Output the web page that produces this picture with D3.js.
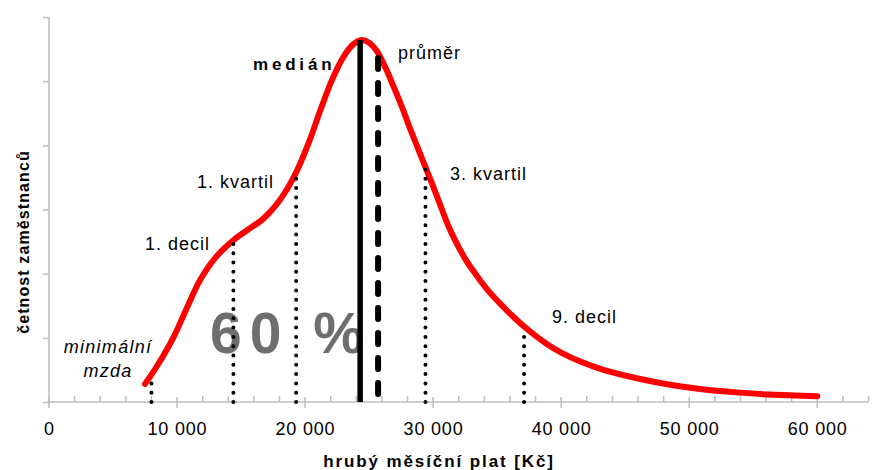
<!DOCTYPE html>
<html>
<head>
<meta charset="utf-8">
<script src="https://cdn.jsdelivr.net/npm/d3@7"></script>
<style>
  html, body { margin: 0; padding: 0; background: #fff; }
  svg { display: block; font-family: "Liberation Sans", Arial, sans-serif; }
</style>
</head>
<body>
<svg id="chart" width="872" height="470"></svg>
<script>
// ---- data ----
const curveX = [7500, 8500, 9700, 10800, 11800, 13000, 14400, 15500, 16700, 17700, 18600, 19400, 20300, 21200, 22100, 23000, 23800, 24400, 25000, 25600, 26300, 26900, 27600, 28200, 28800, 29400, 30000, 30500, 31200, 31900, 32600, 33400, 34200, 35200, 36200, 37200, 38900, 40000, 41500, 43300, 45900, 48500, 51000, 53700, 56300, 60000];
const curveY = [0.28, 0.58, 1.00, 1.48, 1.90, 2.25, 2.52, 2.68, 2.85, 3.06, 3.32, 3.62, 4.05, 4.55, 5.02, 5.38, 5.58, 5.64, 5.60, 5.47, 5.20, 4.92, 4.58, 4.26, 3.96, 3.66, 3.36, 3.10, 2.74, 2.45, 2.20, 1.97, 1.76, 1.54, 1.34, 1.16, 0.90, 0.77, 0.63, 0.50, 0.37, 0.27, 0.20, 0.15, 0.115, 0.09];

const markerNames = ["minimální mzda", "1. decil", "1. kvartil", "medián", "průměr", "3. kvartil", "9. decil"];
const markerValues = [8000, 14400, 19300, 24300, 25700, 29400, 37100];
const markerHeights = [0.30, 2.52, 3.54, 5.64, 5.36, 3.67, 1.12];

const xTicks = [0, 10000, 20000, 30000, 40000, 50000, 60000];
const xTickLabels = ["0", "10 000", "20 000", "30 000", "40 000", "50 000", "60 000"];
const xMinorTicks = d3.range(0, 64001, 2000);
const yTicks = [0, 1, 2, 3, 4, 5, 6];

const xTitle = "hrubý měsíční plat [Kč]";
const yTitle = "četnost zaměstnanců";
const shareLabel = "60 %";

// ---- layout ----
const svg = d3.select("#chart");
const x = d3.scaleLinear().domain([0, 64000]).range([49, 868.5]);
const y = d3.scaleLinear().domain([0, 6]).range([402, 17]);
const axisColor = "#bdbdbd";

// big share label (behind everything)
svg.append("text")
  .attr("x", 210).attr("y", 353)
  .attr("font-size", 57).attr("font-weight", "bold")
  .attr("letter-spacing", 8)
  .attr("fill", "#6e6e6e")
  .text(shareLabel);

// y axis
const yAxis = d3.axisLeft(y).tickValues(yTicks).tickSize(6).tickFormat("");
const gy = svg.append("g").attr("transform", `translate(${x(0)},0)`).call(yAxis);
gy.select(".domain").attr("stroke", axisColor).attr("stroke-width", 1.5).attr("d", `M0,${y(6)}V${y(0)}`);
gy.selectAll(".tick line").attr("stroke", axisColor).attr("stroke-width", 1.5);

// x axis
const gx = svg.append("g").attr("transform", `translate(0,${y(0)})`);
gx.append("line").attr("x1", x(0)).attr("x2", x(64000))
  .attr("stroke", axisColor).attr("stroke-width", 1.5);
gx.selectAll(".minor").data(xMinorTicks.filter(v => v % 10000 !== 0)).enter()
  .append("line").attr("class", "minor")
  .attr("x1", d => x(d)).attr("x2", d => x(d))
  .attr("y1", -6).attr("y2", 0)
  .attr("stroke", axisColor).attr("stroke-width", 1.5);
gx.selectAll(".major").data(xTicks).enter()
  .append("line").attr("class", "major")
  .attr("x1", d => x(d)).attr("x2", d => x(d))
  .attr("y1", -5).attr("y2", 6)
  .attr("stroke", axisColor).attr("stroke-width", 1.5);
gx.selectAll(".lbl").data(xTicks).enter()
  .append("text").attr("class", "lbl")
  .attr("x", d => x(d) + 0.4).attr("y", 33)
  .attr("text-anchor", "middle")
  .attr("font-size", 18).attr("letter-spacing", 0.8)
  .attr("fill", "#000")
  .text((d, i) => xTickLabels[i]);

// axis titles
svg.append("text")
  .attr("x", 439).attr("y", 467)
  .attr("text-anchor", "middle")
  .attr("font-size", 17).attr("font-weight", "bold")
  .attr("letter-spacing", 1.9)
  .text(xTitle);
svg.append("text")
  .attr("transform", "translate(29,242) rotate(-90)")
  .attr("text-anchor", "middle")
  .attr("font-size", 16).attr("font-weight", "bold")
  .attr("letter-spacing", 1.1)
  .text(yTitle);

// distribution curve
const pts = curveX.map((v, i) => [v, curveY[i]]);
const line = d3.line().x(d => x(d[0])).y(d => y(d[1])).curve(d3.curveCatmullRom.alpha(0.5));
svg.append("path")
  .attr("d", line(pts))
  .attr("fill", "none")
  .attr("stroke", "#ff0000")
  .attr("stroke-width", 6)
  .attr("stroke-linecap", "round")
  .attr("stroke-linejoin", "round");

// marker lines
markerValues.forEach((v, i) => {
  const name = markerNames[i];
  const l = svg.append("line")
    .attr("x1", x(v)).attr("x2", x(v))
    .attr("stroke", "#000");
  if (name === "medián") {
    l.attr("y1", y(0)).attr("y2", y(markerHeights[i])).attr("stroke-width", 5.5);
  } else if (name === "průměr") {
    l.attr("y1", y(markerHeights[i])).attr("y2", y(0))
      .attr("stroke-width", 6)
      .attr("stroke-linecap", "round")
      .attr("stroke-dasharray", "11 14");
  } else {
    l.attr("y1", y(0)).attr("y2", y(markerHeights[i]))
      .attr("stroke-width", 4)
      .attr("stroke-linecap", "round")
      .attr("stroke-dasharray", "0 9.3");
  }
});

// marker labels
const labelPos = {
  "1. decil": [145, 250],
  "1. kvartil": [197, 188],
  "3. kvartil": [450, 180],
  "9. decil": [552, 323],
  "průměr": [398, 59]
};
Object.keys(labelPos).forEach(k => {
  svg.append("text")
    .attr("x", labelPos[k][0]).attr("y", labelPos[k][1])
    .attr("font-size", 18).attr("letter-spacing", 1)
    .text(k);
});
svg.append("text")
  .attr("x", 253).attr("y", 69.5)
  .attr("font-size", 17).attr("font-weight", "bold")
  .attr("letter-spacing", 3.8)
  .text(markerNames[3]);
const mw = markerNames[0].split(" ");
svg.append("text")
  .attr("x", 108).attr("y", 353)
  .attr("text-anchor", "middle")
  .attr("font-size", 18).attr("font-style", "italic").attr("letter-spacing", 1.3)
  .text(mw[0]);
svg.append("text")
  .attr("x", 108).attr("y", 377)
  .attr("text-anchor", "middle")
  .attr("font-size", 18).attr("font-style", "italic").attr("letter-spacing", 1.3)
  .text(mw[1]);
</script>
</body>
</html>
